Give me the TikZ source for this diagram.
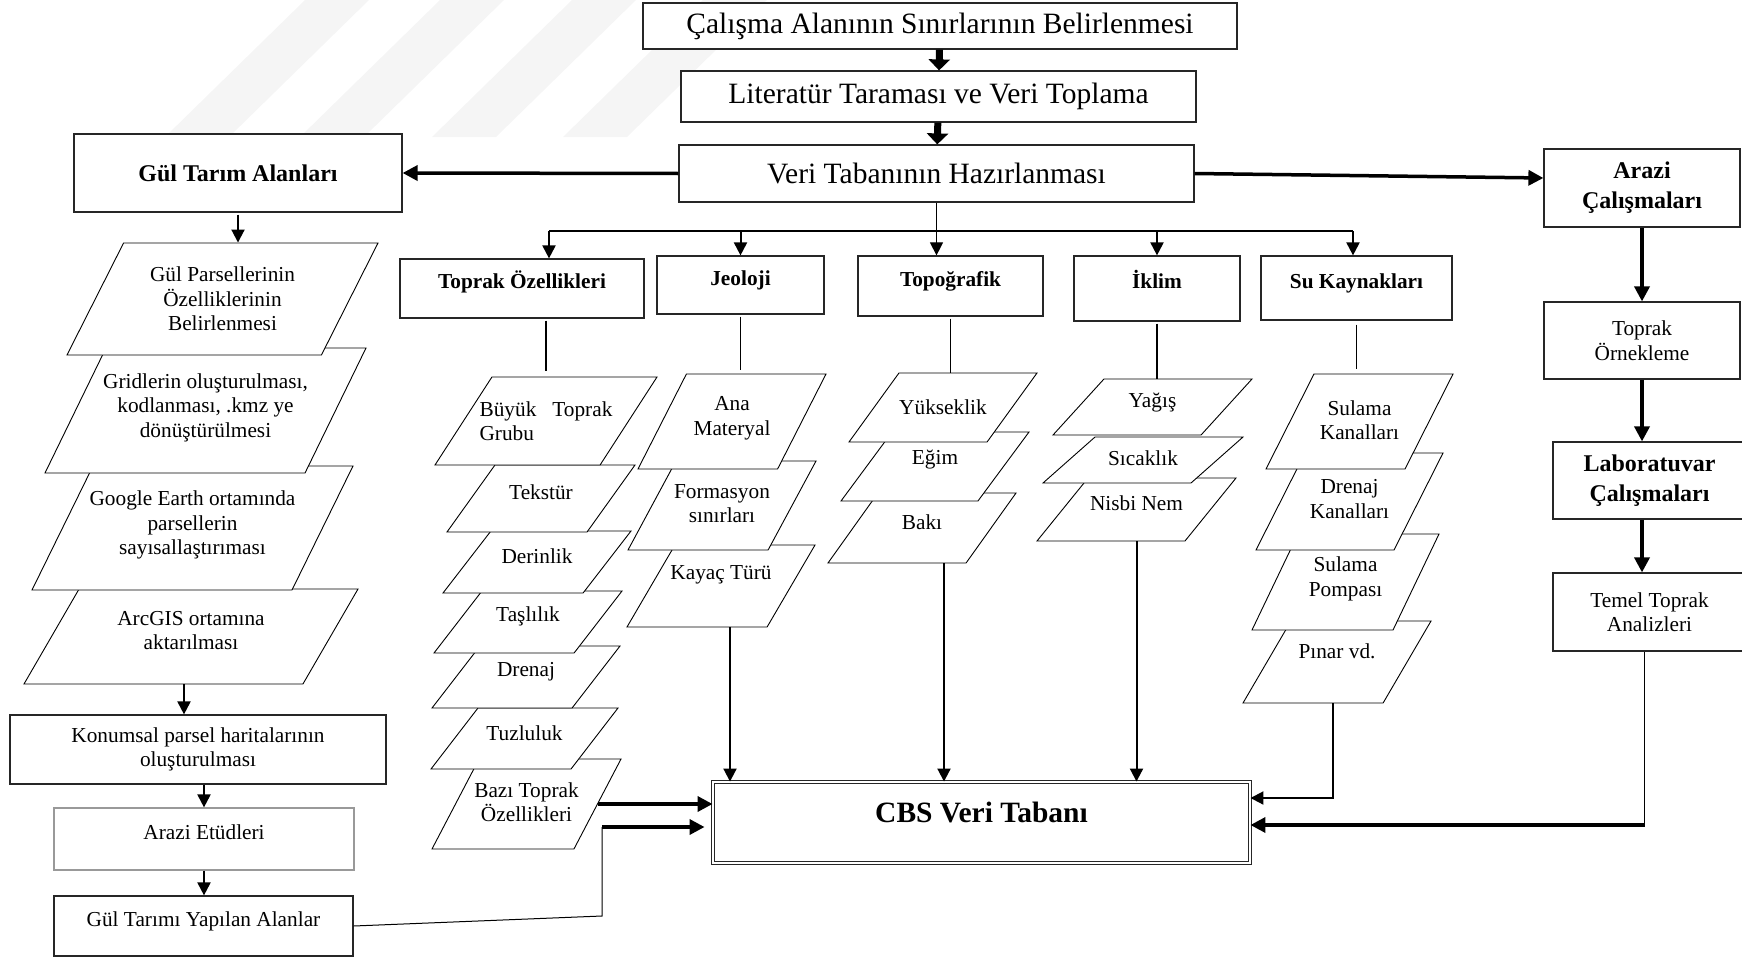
\documentclass[tikz,border=0pt]{standalone}
\usepackage{fontspec}
\setmainfont{Liberation Serif}
\usetikzlibrary{positioning,arrows.meta,shapes.geometric}

\newcommand\fnorm{\fontsize{21.3}{24.5}\selectfont}
\newcommand\fhead{\fontsize{24}{30}\selectfont\bfseries}
\newcommand\fbig{\fontsize{29.5}{34}\selectfont}

\begin{document}
\begin{tikzpicture}[x=1pt,y=-1pt,
  box/.style={draw=black!85, line width=1.2pt, fill=white, inner sep=2pt, align=center, font=\fnorm},
  hdr/.style={box, font=\fnorm\bfseries, text height=15pt, text depth=15pt},
  para/.style 2 args={trapezium, trapezium left angle=#1, trapezium right angle=#2,
    trapezium stretches body, draw, line width=0.9pt, fill=white, inner sep=0pt, text depth=0pt},
  ptext/.style={font=\fnorm, align=center, inner sep=0pt},
  lift/.style={text height=15pt, text depth=#1},
  bigarr/.style={line width=7pt, -{Triangle[width=21pt,length=11pt]}},
  midarr/.style={line width=3.5pt, -{Triangle[width=15pt,length=15pt]}},
  arr/.style={line width=2pt, -{Triangle[width=13pt,length=13pt]}},
  link/.style={line width=1.8pt}]
\useasboundingbox (0,0) rectangle (1742,958);

% watermark
\foreach \s in {165,300,432,563}
  \fill[black!4] (\s,137) -- (\s+64,137) -- (\s+204,0) -- (\s+140,0) -- cycle;

% main chain
\node[box, font=\fbig, minimum width=594pt, minimum height=46pt] (calisma) at (940,26) {Çalışma Alanının Sınırlarının Belirlenmesi};
\node[box, font=\fbig, minimum width=515pt, minimum height=51pt] (literatur) at (938.5,96.5) {Literatür Taraması ve Veri Toplama};
\node[box, font=\fbig, minimum width=515pt, minimum height=57pt] (veritab) at (936.5,173.5) {Veri Tabanının Hazırlanması};

% left branch
\node[box, font=\fhead, minimum width=328pt, minimum height=78pt] (gul) at (238,173) {Gül Tarım Alanları};
\node[para={59.9}{120.1}, text height=95pt, minimum width=334pt,
  label={[ptext, yshift=6pt]center:ArcGIS ortamına\\aktarılması}] (G4) at (191,636.5) {};
\node[para={63.8}{116.2}, text height=124pt, minimum width=321pt,
  label={[ptext, yshift=3pt]center:Google Earth ortamında\\parsellerin\\sayısallaştırıması}] (G3) at (192.5,528) {};
\node[para={64}{116}, text height=125pt, minimum width=321pt,
  label={[ptext, yshift=3pt]center:Gridlerin oluşturulması,\\kodlanması, .kmz ye\\dönüştürülmesi}] (G2) at (205.5,410.5) {};
\node[para={63.2}{116.8}, text height=112pt, minimum width=311pt,
  label={[ptext]center:Gül Parsellerinin\\Özelliklerinin\\Belirlenmesi}] (G1) at (222.5,299) {};
\node[box, minimum width=376pt, minimum height=69pt] (konum) at (198,749.5) {Konumsal parsel haritalarının\\oluşturulması};
\node[box, draw=black!40, lift=14pt, minimum width=300pt, minimum height=62pt] (etud) at (204,839) {Arazi Etüdleri};
\node[box, lift=14pt, minimum width=299pt, minimum height=60pt] (gultarimi) at (203.5,926) {Gül Tarımı Yapılan Alanlar};

% headers
\node[hdr, minimum width=244pt, minimum height=59pt] (toprak) at (522,288.5) {Toprak Özellikleri};
\node[hdr, minimum width=167pt, minimum height=58pt] (jeoloji) at (740.5,285) {Jeoloji};
\node[hdr, minimum width=185pt, minimum height=60pt] (topog) at (950.5,286) {Topoğrafik};
\node[hdr, minimum width=166pt, minimum height=65pt] (iklim) at (1157,288.5) {İklim};
\node[hdr, minimum width=191pt, minimum height=64pt] (su) at (1356.5,288) {Su Kaynakları};

% toprak column
\node[para={62.4}{117.6}, text height=90pt, minimum width=189pt,
  label={[ptext, yshift=2pt]center:Bazı Toprak\\Özellikleri}] (T7) at (526.5,804) {};
\node[para={52.4}{127.6}, text height=61pt, minimum width=187pt,
  label={[ptext, yshift=5pt]center:Tuzluluk}] (T6) at (524.5,738.5) {};
\node[para={52.3}{127.7}, text height=62pt, minimum width=188pt,
  label={[ptext, yshift=5pt]center:Drenaj}] (T5) at (526,677) {};
\node[para={52.3}{127.7}, text height=62pt, minimum width=188pt,
  label={[ptext, yshift=6pt]center:Taşlılık}] (T4) at (528,622) {};
\node[para={52.3}{127.7}, text height=62pt, minimum width=188pt,
  label={[ptext, yshift=6pt]center:Derinlik}] (T3) at (537,562) {};
\node[para={54.4}{125.6}, text height=67pt, minimum width=188pt,
  label={[ptext, yshift=6pt]center:Tekstür}] (T2) at (541,498.5) {};
\node[para={57.1}{122.9}, text height=88pt, minimum width=222pt,
  label={[ptext, align=left]center:Büyük\hspace{0.75em}Toprak\\Grubu}] (T1) at (546,421) {};

% jeoloji column
\node[para={59.7}{120.3}, text height=82pt, minimum width=188pt,
  label={[ptext, yshift=11pt]center:Kayaç Türü}] (J3) at (721,586) {};
\node[para={61.7}{118.3}, text height=89pt, minimum width=188pt,
  label={[ptext, yshift=2pt]center:Formasyon\\sınırları}] (J2) at (722,505.5) {};
\node[para={63}{117}, text height=95pt, minimum width=188pt,
  label={[ptext, yshift=3pt]center:Ana\\Materyal}] (J1) at (732,421.5) {};

% topografik column
\node[para={54.5}{125.5}, text height=70pt, minimum width=188pt,
  label={[ptext, yshift=6pt]center:Bakı}] (P3) at (922,528) {};
\node[para={53.5}{126.5}, text height=69pt, minimum width=188pt,
  label={[ptext, yshift=7pt]center:Eğim}] (P2) at (935,466.5) {};
\node[para={54.1}{125.9}, text height=69pt, minimum width=188pt,
  label={[ptext]center:Yükseklik}] (P1) at (943,407.5) {};

% iklim column
\node[para={51}{129}, text height=63pt, minimum width=199pt,
  label={[ptext, yshift=6pt]center:Nisbi Nem}] (K3) at (1136.5,509.5) {};
\node[para={41.5}{138.5}, text height=46pt, minimum width=200pt,
  label={[ptext, yshift=2pt]center:Sıcaklık}] (K2) at (1143,460) {};
\node[para={47.7}{132.3}, text height=56pt, minimum width=199pt,
  label={[ptext, yshift=4pt]center:Yağış}] (K1) at (1152.5,407) {};

% su column
\node[para={59.7}{120.3}, text height=82pt, minimum width=188pt,
  label={[ptext, yshift=11pt]center:Pınar vd.}] (S4) at (1337,662) {};
\node[para={64.4}{115.6}, text height=96pt, minimum width=187pt,
  label={[ptext, yshift=3pt]center:Sulama\\Pompası}] (S3) at (1345.5,582) {};
\node[para={63.2}{116.8}, text height=97pt, minimum width=187pt,
  label={[ptext, yshift=2.5pt]center:Drenaj\\Kanalları}] (S2) at (1349.5,501.5) {};
\node[para={63.2}{116.8}, text height=95pt, minimum width=187pt,
  label={[ptext, yshift=1.5pt]center:Sulama\\Kanalları}] (S1) at (1359.5,421.5) {};

% right branch
\node[box, font=\fhead, minimum width=196pt, minimum height=78pt] (arazi) at (1642,188) {Arazi\\Çalışmaları};
\node[box, minimum width=196pt, minimum height=77pt] (ornek) at (1642,340.5) {Toprak\\Örnekleme};
\node[box, font=\fhead, minimum width=193pt, minimum height=77pt] (lab) at (1649.5,480.5) {Laboratuvar\\Çalışmaları};
\node[box, minimum width=193pt, minimum height=78pt] (temel) at (1649.5,612) {Temel Toprak\\Analizleri};

% target
\node[box, font=\fbig\bfseries, double, double distance=2.5pt, line width=0.9pt,
  text height=20pt, text depth=20pt, minimum width=537pt, minimum height=81pt] (cbs) at (981.5,822.5) {CBS Veri Tabanı};

% connectors
\draw[bigarr] (calisma) -- (literatur);
\draw[bigarr] (literatur) -- (veritab);
\draw[midarr] (veritab.west) -- (gul.east);
\draw[midarr] (veritab.east) -- ([yshift=10pt]arazi.west);
\draw[arr] ([yshift=-2pt]gul.south) -- (gul.south |- G1.north);
\draw[arr] ([xshift=-7pt]G4.south) -- ([xshift=-7pt]G4.south |- konum.north);
\draw[arr] (etud.north |- konum.south) -- (etud.north);
\draw[arr] (etud.south) -- (etud.south |- gultarimi.north);

\coordinate (dl) at (549,231);
\coordinate (dr) at (1353,231);
\draw[link] (dl) -- (dr);
\draw[arr] (dl) -- (dl |- toprak.north);
\draw[arr] (jeoloji.north |- dl) -- (jeoloji.north);
\draw[arr] (iklim.north |- dl) -- (iklim.north);
\draw[arr] (dr) -- (dr |- su.north);
\draw[line width=1pt, -{Triangle[width=13pt,length=13pt]}] (veritab.south) -- (veritab.south |- topog.north);

\draw[link, shorten <=2pt, shorten >=6pt] (T1.north |- toprak.south) -- (T1.north);
\draw[link, shorten <=2pt, shorten >=4pt] (jeoloji.south) -- (jeoloji.south |- J1.north);
\draw[link, shorten <=2pt] (topog.south) -- (topog.south |- P1.north);
\draw[line width=1.2pt, shorten <=2pt] (iklim.south) -- (iklim.south |- K1.north);
\draw[line width=1.2pt, shorten <=4pt, shorten >=5pt] (su.south) -- (su.south |- S1.north);

\draw[arr] ([xshift=9pt]J3.south) -- ([xshift=9pt]J3.south |- cbs.north);
\draw[arr] ([xshift=22pt]P3.south) -- ([xshift=22pt]P3.south |- cbs.north);
\draw[arr] (K3.south) -- (K3.south |- cbs.north);
\draw[arr] ([xshift=-4pt]S4.south) |- ([yshift=24.5pt]cbs.east);
\draw[midarr] (T7.east) -- (T7.east -| cbs.west);

\coordinate (jn) at (602,916);
\coordinate (cbsL) at ([yshift=-4.5pt]cbs.west);
\draw[line width=1pt] (gultarimi.east) -- (jn) -- (jn |- cbsL);
\draw[midarr, shorten >=8pt] (jn |- cbsL) -- (cbsL);

\coordinate (cbsR) at ([yshift=-2.5pt]cbs.east);
\coordinate (temB) at ([xshift=-5pt]temel.south);
\draw[line width=1.2pt] (temB) -- (temB |- cbsR);
\draw[midarr] (temB |- cbsR) -- (cbsR);

\draw[midarr] (arazi) -- (ornek);
\draw[midarr] ([xshift=-7.5pt]lab.north |- ornek.south) -- ([xshift=-7.5pt]lab.north);
\draw[midarr] ([xshift=-7.5pt]lab.south) -- ([xshift=-7.5pt]temel.north);
\end{tikzpicture}
\end{document}
